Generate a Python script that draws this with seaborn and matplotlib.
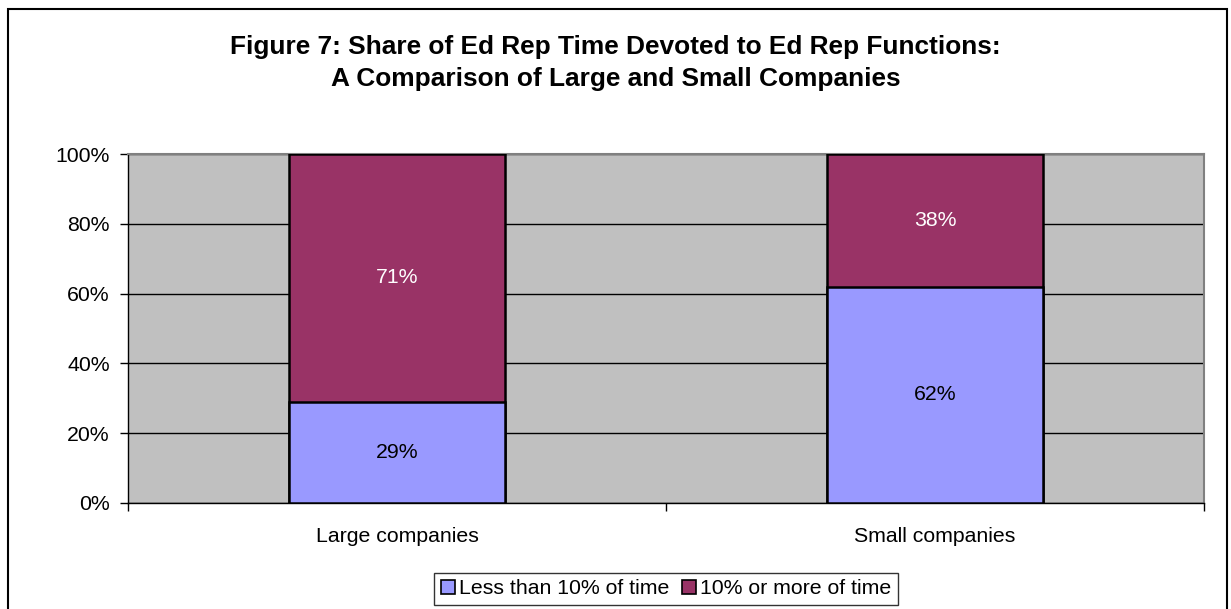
import matplotlib
matplotlib.use("Agg")
import matplotlib.pyplot as plt
import seaborn as sns
import pandas as pd
from matplotlib.patches import Rectangle, Patch

categories = ["Large companies", "Small companies"]
less_than_10 = [29, 62]
ten_or_more = [71, 38]
series_names = ["Less than 10% of time", "10% or more of time"]
y_ticks = [0, 20, 40, 60, 80, 100]

sns.set_theme(style="white")
plt.rcParams['font.family'] = ['Liberation Sans', 'DejaVu Sans']
plt.rcParams['text.color'] = 'black'
plt.rcParams['xtick.color'] = 'black'
plt.rcParams['ytick.color'] = 'black'

blue = "#9999FF"
maroon = "#993366"
FS = 15.3

fig = plt.figure(figsize=(12.31, 6.09), dpi=100)
ax = fig.add_axes([128/1231, 106/609, (1204-128)/1231, (503-154)/609])

df = pd.DataFrame({"cat": categories, "low": less_than_10, "high": ten_or_more})
df["total"] = df["low"] + df["high"]

sns.barplot(data=df, x="cat", y="total", color=maroon, width=0.4, ax=ax,
            edgecolor="black", linewidth=1.8, saturation=1, zorder=3)
sns.barplot(data=df, x="cat", y="low", color=blue, width=0.4, ax=ax,
            edgecolor="black", linewidth=1.8, saturation=1, zorder=4)

ax.set_facecolor("#C0C0C0")
ax.set_xlim(-0.5, 1.5)
ax.set_ylim(0, 100)
ax.set_yticks(y_ticks)
ax.set_yticklabels([f"{v}%" for v in y_ticks], fontsize=FS)
ax.yaxis.grid(True, color="black", linewidth=1.0, zorder=1)
ax.set_axisbelow(True)
ax.set_xlabel("")
ax.set_ylabel("")

ax.set_xticks([0, 1])
ax.set_xticklabels(categories, fontsize=FS)
ax.tick_params(axis="x", which="major", length=0, pad=17)
ax.set_xticks([-0.5, 0.5, 1.5], minor=True)
ax.tick_params(axis="x", which="minor", length=6, width=1, color="black", direction="out", bottom=True)
ax.tick_params(axis="y", length=6, width=1, color="black", direction="out", left=True, pad=7)

for s in ax.spines.values():
    s.set_color("#808080")
    s.set_linewidth(1.5)
ax.spines["left"].set_color("black")
ax.spines["left"].set_linewidth(1)
ax.spines["bottom"].set_color("black")
ax.spines["bottom"].set_linewidth(1)

for i in range(len(categories)):
    lo = less_than_10[i]
    hi = ten_or_more[i]
    ax.text(i, lo / 2, f"{lo}%", ha="center", va="center", fontsize=FS, color="black", zorder=5)
    ax.text(i, lo + hi / 2, f"{hi}%", ha="center", va="center", fontsize=FS, color="white", zorder=5)

fig.text(0.5, 1 - 47/609, "Figure 7: Share of Ed Rep Time Devoted to Ed Rep Functions:",
         ha="center", va="center", fontsize=18.9, fontweight="bold", color="black")
fig.text(0.5, 1 - 79/609, "A Comparison of Large and Small Companies",
         ha="center", va="center", fontsize=18.9, fontweight="bold", color="black")

handles = [Patch(facecolor=blue, edgecolor="black", linewidth=1.2),
           Patch(facecolor=maroon, edgecolor="black", linewidth=1.2)]
leg = fig.legend(handles, series_names, loc="center", bbox_to_anchor=(666/1231, 1 - 589/609),
                 ncol=2, fontsize=FS, frameon=True, fancybox=False, edgecolor="black",
                 handlelength=0.65, handleheight=0.65, handletextpad=0.2, columnspacing=0.6,
                 borderpad=0.3, borderaxespad=0)
leg.get_frame().set_linewidth(1)

fig.patches.append(Rectangle((8/1231, -0.05), (1227-8)/1231, 1.05 - 9/609,
                             transform=fig.transFigure, fill=False, edgecolor="black", linewidth=1.5))

fig.savefig("out.png", dpi=100)
